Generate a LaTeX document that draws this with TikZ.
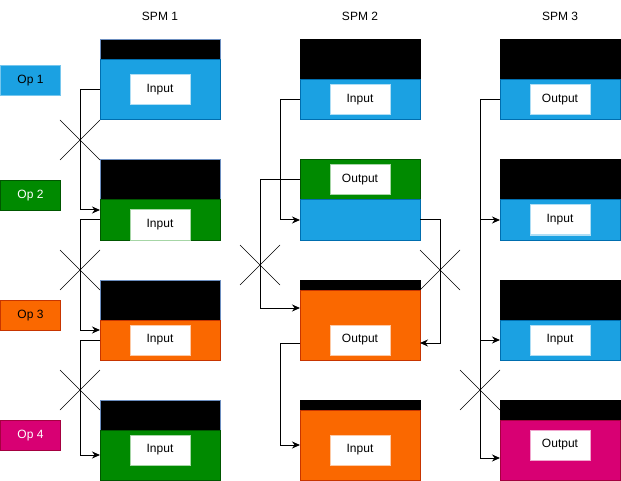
\documentclass[tikz,border=0pt]{standalone}
\usepackage{fontspec}
\setmainfont{Liberation Sans}
\usetikzlibrary{arrows.meta}

\definecolor{cblue}{HTML}{1BA1E2}
\definecolor{cblueline}{HTML}{006EAF}
\definecolor{cgreen}{HTML}{008A00}
\definecolor{cgreenline}{HTML}{005700}
\definecolor{corange}{HTML}{FA6800}
\definecolor{corangeline}{HTML}{C73500}
\definecolor{cpink}{HTML}{D80073}
\definecolor{cpinkline}{HTML}{A50040}
\definecolor{hdline}{HTML}{6C8EBF}

\tikzset{
  every node/.style={font=\fontsize{12}{14}\selectfont},
  seg/.style={fill=#1, draw=#1line, line width=1pt, anchor=north west,
    inner sep=0pt, outer sep=0pt, minimum width=120},
  head/.style={fill=black, draw=#1, line width=1pt, anchor=north west,
    inner sep=0pt, outer sep=0pt, minimum width=120},
  head/.default=black,
  tag/.style={fill=white, draw=#1!35!white, line width=1pt,
    minimum width=60, minimum height=30, inner sep=0pt},
  op/.style={fill=#1, draw=#1line, line width=1pt, anchor=north west,
    minimum width=60, minimum height=30, inner sep=0pt},
  link/.style={-{Stealth[length=8pt,width=7pt]}, line width=1pt},
  swapx/.pic={\draw[line width=0.5pt] (-20,-20) -- (20,20) (-20,20) -- (20,-20);}
}

\begin{document}
\begin{tikzpicture}[x=1pt, y=-1pt]
  \useasboundingbox (0,0) rectangle (621,481);

  % column titles
  \node (spm1) at (160,16) {SPM 1};
  \node (spm2) at (360,16) {SPM 2};
  \node (spm3) at (560,16) {SPM 3};

  % ops
  \node[op=cblue, draw=cblue!60!white] (op1) at (0,65) {Op 1};
  \node[op=cgreen, text=white] (op2) at (0,180) {Op 2};
  \node[op=corange] (op3) at (0,300) {Op 3};
  \node[op=cpink, text=white] (op4) at (0,420) {Op 4};

  % SPM 1
  \node[head=hdline, minimum height=20] (a1h) at (100,40) {};
  \node[seg=cblue, minimum height=60] (a1) at (100,60) {};
  \node[head=hdline, minimum height=40] (a2h) at (100,160) {};
  \node[seg=cgreen, minimum height=40] (a2) at (100,200) {};
  \node[head=hdline, minimum height=40] (a3h) at (100,280) {};
  \node[seg=corange, minimum height=40] (a3) at (100,320) {};
  \node[head=hdline, minimum height=30] (a4h) at (100,400) {};
  \node[seg=cgreen, minimum height=50] (a4) at (100,430) {};
  \node[tag=cblue] (ta1) at (160,90) {Input};
  \node[tag=cgreen] (ta2) at (160,225) {Input};
  \node[tag=corange] (ta3) at (160,340) {Input};
  \node[tag=cgreen] (ta4) at (160,450) {Input};

  % SPM 2
  \node[head, minimum height=40] (b1h) at (300,40) {};
  \node[seg=cblue, minimum height=40] (b1) at (300,80) {};
  \node[seg=cgreen, minimum height=40] (b2g) at (300,160) {};
  \node[seg=cblue, minimum height=40] (b2) at (300,200) {};
  \node[head, minimum height=10] (b3h) at (300,280) {};
  \node[seg=corange, minimum height=70] (b3) at (300,290) {};
  \node[head, minimum height=10] (b4h) at (300,400) {};
  \node[seg=corange, minimum height=70] (b4) at (300,410) {};
  \node[tag=cblue] (tb1) at (360,100) {Input};
  \node[tag=cgreen] (tb2) at (360,180) {Output};
  \node[tag=corange] (tb3) at (360,340) {Output};
  \node[tag=corange] (tb4) at (360,450) {Input};

  % SPM 3
  \node[head, minimum height=40] (c1h) at (500,40) {};
  \node[seg=cblue, minimum height=40] (c1) at (500,80) {};
  \node[head, minimum height=40] (c2h) at (500,160) {};
  \node[seg=cblue, minimum height=40] (c2) at (500,200) {};
  \node[head, minimum height=40] (c3h) at (500,280) {};
  \node[seg=cblue, minimum height=40] (c3) at (500,320) {};
  \node[head, minimum height=20] (c4h) at (500,400) {};
  \node[seg=cpink, minimum height=60] (c4) at (500,420) {};
  \node[tag=cblue] (tc1) at (560,100) {Output};
  \node[tag=cblue] (tc2) at (560,220) {Input};
  \node[tag=cblue] (tc3) at (560,340) {Input};
  \node[tag=cpink] (tc4) at (560,445) {Output};

  % links
  \draw[link] (a1.west) -- ++(-20,0) |- ([yshift=10pt]a2.west);
  \draw[link] (a2.west) -- ++(-20,0) |- ([yshift=10pt]a3.west);
  \draw[link] (a3.west) -- ++(-20,0) |- (a4.west);

  \draw[link] (b1.west) -- ++(-20,0) |- (b2.west);
  \draw[link] (b2g.west) -- ++(-40,0) |- ([yshift=17pt]b3.west);
  \draw[link] ([yshift=-18pt]b3.west) -- ++(-20,0) |- (b4.west);
  \draw[link] (b2.east) -- ++(20,0) |- ([yshift=-18pt]b3.east);

  \draw[link] (c1.west) -- ++(-20,0) |- (c2.west);
  \draw[link] (c1.west) -- ++(-20,0) |- (c3.west);
  \draw[link] (c1.west) -- ++(-20,0) |- ([yshift=-8pt]c4.west);

  % crossings
  \pic at (80,140) {swapx};
  \pic at (80,270) {swapx};
  \pic at (80,390) {swapx};
  \pic at (260,265) {swapx};
  \pic at (440,270) {swapx};
  \pic at (480,390) {swapx};
\end{tikzpicture}
\end{document}
